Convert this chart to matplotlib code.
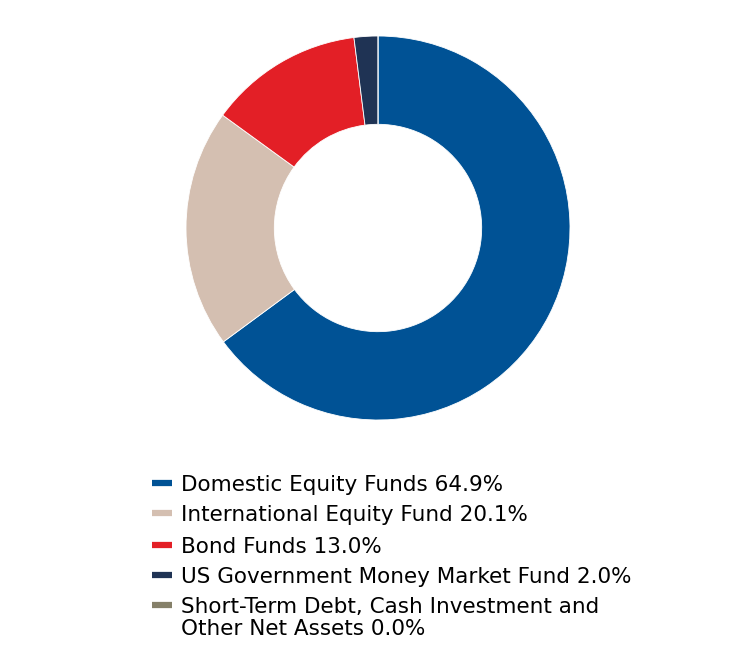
import matplotlib.pyplot as plt
from matplotlib.lines import Line2D

labels = ['Domestic Equity Funds', 'International Equity Fund', 'Bond Funds',
          'US Government Money Market Fund',
          'Short-Term Debt, Cash Investment and\nOther Net Assets']
values = [64.9, 20.1, 13.0, 2.0, 0.0]
colors = ['#005295', '#d4bfb1', '#e31f26', '#1f3354', '#858069']

W, H = 756, 648
fig = plt.figure(figsize=(W / 100, H / 100), dpi=100)
ax = fig.add_axes([186 / W, 228 / H, 384 / W, 384 / H])
ax.pie(values, colors=colors, startangle=90, counterclock=False,
       wedgeprops=dict(width=0.46, edgecolor='white', linewidth=0.6))
ax.set_xlim(-1, 1)
ax.set_ylim(-1, 1)
ax.set_aspect('equal')

# legend by hand: marker sits on the first line of each entry
row_y = [483, 513, 545, 575, 605]
for lab, val, col, y in zip(labels, values, colors, row_y):
    fy = 1 - y / H
    fig.add_artist(Line2D([152 / W, 172 / W], [fy, fy], color=col, lw=4.5,
                          solid_capstyle='butt', transform=fig.transFigure))
    lines = f'{lab} {val:.1f}%'.split('\n')
    for k, line in enumerate(lines):
        base = y + 8 + 22 * k
        fig.text(181 / W, 1 - base / H, line, fontsize=15.5, va='baseline',
                 ha='left', color='black')

fig.savefig('out.png', dpi=100)
